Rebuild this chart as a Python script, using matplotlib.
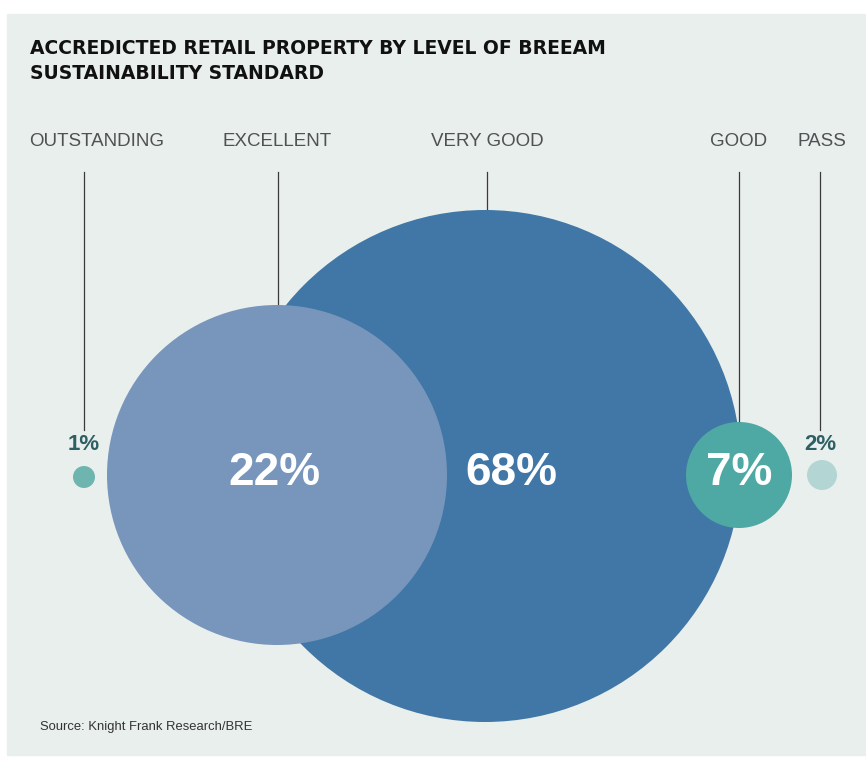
import matplotlib.pyplot as plt
from matplotlib.patches import Circle, Rectangle

# -- données -- #
categories = ["OUTSTANDING", "EXCELLENT", "VERY GOOD", "GOOD", "PASS"]
valeurs = [1, 22, 68, 7, 2]

titre = "ACCREDICTED RETAIL PROPERTY BY LEVEL OF BREEAM\nSUSTAINABILITY STANDARD"
source = "Source: Knight Frank Research/BRE"

# -- mise en forme (pixels) -- #
cx = [84, 277, 485, 739, 822]
cy = [477, 475, 466, 475, 475]
rayons = [11, 170, 256, 53, 15]
couleurs = ["#6fb5af", "#7896bc", "#4177a6", "#4ea8a3", "#b3d6d4"]
xligne = [84, 278, 487, 739, 820]
xlabel = [97, 277, 487, 739, 822]
ordre = [2, 1, 3, 0, 4]  # ordre de tracé

fond = "#e9efed"

fig = plt.figure(figsize=(8.66, 7.58), dpi=100)
ax = fig.add_axes([0, 0, 1, 1])
ax.set_xlim(0, 866)
ax.set_ylim(758, 0)
ax.set_aspect("equal")
ax.axis("off")

ax.add_patch(Rectangle((7, 14), 859, 741, color=fond, zorder=0))

for i in ordre:
    ax.add_patch(Circle((cx[i], cy[i]), rayons[i], color=couleurs[i], lw=0, zorder=2 + ordre.index(i) * 0.1))

for i, cat in enumerate(categories):
    ax.text(xlabel[i], 141, cat, ha="center", va="center", fontsize=13.5, color="#4f5152",
            family="Liberation Sans")
    fin = cy[i] - rayons[i]
    if rayons[i] < 20:
        fin = 430
    ax.plot([xligne[i], xligne[i]], [172, fin], color="#3a3a3a", lw=0.9, zorder=1)
    txt = "%d%%" % valeurs[i]
    if rayons[i] < 20:
        ax.text(xligne[i], 445, txt, ha="center", va="center", fontsize=16, fontweight="bold",
                color="#2d5f63", family="Liberation Sans")

# labels dans les cercles
ax.text(274, 473, "22%", ha="center", va="center", fontsize=33, fontweight="bold", color="white",
        family="Liberation Sans", zorder=5)
ax.text(511, 473, "68%", ha="center", va="center", fontsize=33, fontweight="bold", color="white",
        family="Liberation Sans", zorder=5)
ax.text(739, 473, "7%", ha="center", va="center", fontsize=33, fontweight="bold", color="white",
        family="Liberation Sans", zorder=5)

ax.text(30, 61, titre, ha="left", va="center", fontsize=13.5, fontweight="heavy", color="#111111",
        family="DejaVu Sans", linespacing=1.45)
ax.text(40, 727, source, ha="left", va="center", fontsize=9.4, color="#333333",
        family="Liberation Sans")

fig.savefig("out.png", dpi=100, facecolor="white")
